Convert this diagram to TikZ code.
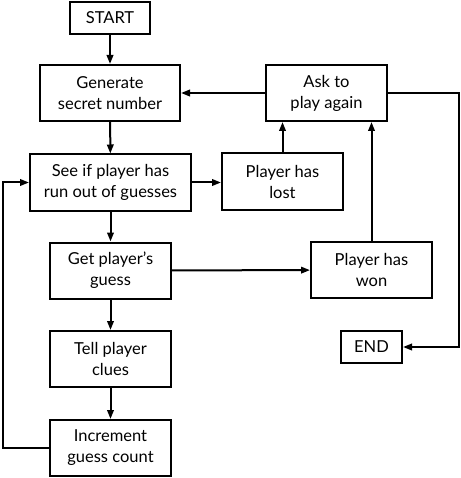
\documentclass[tikz,border=0pt]{standalone}
\usepackage{fontspec}
\setmainfont{Lato}
\usetikzlibrary{arrows.meta}
\begin{document}
\begin{tikzpicture}[x=1pt,y=-1pt,
  box/.style={draw, line width=2pt, align=center, inner sep=0pt, font=\fontsize{16.5}{21}\selectfont},
  small/.style={box, minimum height=32pt},
  big/.style={box, minimum height=56pt},
  arr/.style={line width=2pt, -{Triangle[length=9pt,width=6.5pt]}}]
\useasboundingbox (0,0) rectangle (460,478);
\node[small, minimum width=80pt] (start) at (110,18) {START};
\node[big, minimum width=140pt] (gen) at (110,93) {Generate\\secret number};
\node[big, minimum width=161pt] (see) at (110.5,182.5) {See if player has\\run out of guesses};
\node[big, minimum width=121pt] (lost) at (282.5,181.5) {Player has\\lost};
\node[big, minimum width=121pt] (ask) at (326.5,93) {Ask to\\play again};
\node[big, minimum width=121pt] (get) at (110.5,270.5) {Get player’s\\guess};
\node[big, minimum width=121pt] (won) at (371.5,270) {Player has\\won};
\node[big, minimum width=121pt] (tell) at (110.5,359) {Tell player\\clues};
\node[big, minimum width=121pt] (inc) at (110.5,448) {Increment\\guess count};
\node[small, minimum width=61pt] (end) at (371.5,347) {END};
\coordinate (rc) at (458.5,93);
\coordinate (lc) at (3,448);
\draw[arr] (start) -- (gen);
\draw[arr] (gen) -- (see);
\draw[arr] (see.east) -- (see.east -| lost.west);
\draw[arr] (lost) -- (lost |- ask.south);
\draw[arr] (ask) -- (gen);
\draw[arr] (see) -- (get);
\draw[arr] (get) -- (won);
\draw[arr] (won) -- (won |- ask.south);
\draw[arr] (ask.east) -- (rc) |- (end.east);
\draw[arr] (get) -- (tell);
\draw[arr] (tell) -- (inc);
\draw[arr] (inc.west) -- (lc) |- (see.west);
\end{tikzpicture}
\end{document}
